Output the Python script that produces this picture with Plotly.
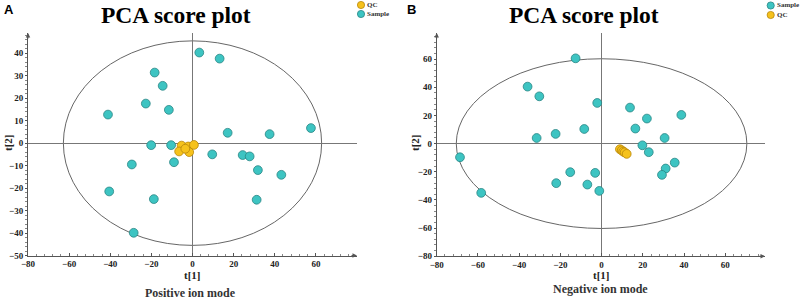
import plotly.graph_objects as go

# ---------------- data ----------------
# Panel A: Positive ion mode
a_sample_x = [3.3, 13.2, -18.4, -14.5, -22.7, -11.5, -41.1, 17.1, 37.5, 57.6, -20.1, -10.4,
              9.6, 24.4, 27.8, -29.5, -9.0, 31.8, 43.2, -40.5, -18.8, 31.2, -28.6]
a_sample_y = [40.3, 37.6, 31.4, 25.5, 17.6, 14.8, 12.7, 4.6, 4.0, 6.7, -0.9, -0.9,
              -5.0, -5.3, -5.9, -9.5, -8.5, -12.0, -14.1, -21.5, -24.9, -25.2, -39.9]
a_qc_x = [-5.3, -2.1, 0.7, -6.5, -1.6, -3.5]
a_qc_y = [-1.1, -1.5, -0.8, -3.7, -4.0, -2.5]
a_ellipse = (62.8, 45.5)   # semi-axes (t[1], t[2])
a_xticks = [-80, -60, -40, -20, 0, 20, 40, 60]
a_yticks = [-50, -40, -30, -20, -10, 0, 10, 20, 30, 40]

# Panel B: Negative ion mode
b_sample_x = [-12.6, -35.9, -30.2, -2.1, 13.8, 22.0, 38.7, -8.4, 16.4, -22.3, -31.5, 30.6,
              19.8, 22.9, -68.7, -58.4, -15.2, -3.1, -22.0, -6.9, -1.1, 35.5, 31.1, 29.3]
b_sample_y = [60.6, 40.5, 33.6, 28.9, 25.6, 17.8, 20.4, 10.4, 10.7, 6.9, 4.0, 4.0,
              -1.2, -6.1, -9.7, -35.0, -20.3, -20.8, -28.1, -29.1, -33.6, -13.5, -17.7, -22.2]
b_qc_x = [8.9, 9.8, 10.5, 11.2, 12.2]
b_qc_y = [-4.0, -4.8, -5.7, -6.2, -7.3]
b_ellipse = (70.5, 60.3)
b_xticks = [-80, -60, -40, -20, 0, 20, 40, 60]
b_yticks = [-80, -60, -40, -20, 0, 20, 40, 60]

# ---------------- style ----------------
SERIF = "Liberation Serif"
SANS = "Liberation Sans"
SAMPLE_FILL, SAMPLE_LINE = "#3dc4c2", "#2a8584"
QC_FILL, QC_LINE = "#f6c21c", "#b8860b"
AXIS_COL = "#555555"
MS = 8.8

fig = go.Figure()

def add_pts(x, y, fill, line, xa, ya, name):
    fig.add_trace(go.Scatter(x=x, y=y, mode="markers", name=name, showlegend=False,
                             xaxis=xa, yaxis=ya,
                             marker=dict(size=MS, color=fill, line=dict(color=line, width=0.8))))

add_pts(a_sample_x, a_sample_y, SAMPLE_FILL, SAMPLE_LINE, "x", "y", "Sample")
add_pts(a_qc_x, a_qc_y, QC_FILL, QC_LINE, "x", "y", "QC")
add_pts(b_sample_x, b_sample_y, SAMPLE_FILL, SAMPLE_LINE, "x2", "y2", "Sample")
add_pts(b_qc_x, b_qc_y, QC_FILL, QC_LINE, "x2", "y2", "QC")

tickfont = dict(family=SERIF, size=9, color="#222", weight="bold")

def xaxis(domain, rng, ticks, anchor):
    return dict(domain=domain, range=rng, anchor=anchor, tickvals=ticks, automargin=False,
                showgrid=False, showline=True, linecolor=AXIS_COL, linewidth=1,
                zeroline=True, zerolinecolor="#777", zerolinewidth=1,
                ticks="inside", ticklen=3, tickcolor=AXIS_COL, tickfont=tickfont,
                minor=dict(ticks="inside", ticklen=2, tickcolor="#888", dtick=4),
                fixedrange=True)

def yaxis(domain, rng, ticks, anchor, mdt):
    return dict(domain=domain, range=rng, anchor=anchor, tickvals=ticks, automargin=False,
                showgrid=False, showline=True, linecolor=AXIS_COL, linewidth=1,
                zeroline=True, zerolinecolor="#777", zerolinewidth=1,
                ticks="outside", ticklen=2, tickcolor=AXIS_COL, tickfont=tickfont,
                minor=dict(ticks="outside", ticklen=2, tickcolor="#888", dtick=mdt),
                fixedrange=True)

W, H = 800, 300
fig.update_layout(
    width=W, height=H, margin=dict(l=0, r=0, t=0, b=0, autoexpand=False),
    paper_bgcolor="white", plot_bgcolor="white",
    xaxis=xaxis([28 / W, 357 / W], [-80, 80], a_xticks, "y"),
    yaxis=yaxis([(H - 255.5) / H, (H - 33) / H], [-50, 49], a_yticks, "x", 2),
    xaxis2=xaxis([436.7 / W, 765 / W], [-80, 79.3], b_xticks, "y2"),
    yaxis2=yaxis([(H - 256.2) / H, (H - 33) / H], [-80, 78.6], b_yticks, "x2", 4),
)

# Hotelling ellipses
for (rx, ry), xr, yr in [(a_ellipse, "x", "y"), (b_ellipse, "x2", "y2")]:
    fig.add_shape(type="circle", xref=xr, yref=yr, x0=-rx, x1=rx, y0=-ry, y1=ry,
                  line=dict(color="#666", width=1), layer="below")

# Axis arrows
for xr, yr, xmin, xmax, ymin, ymax in [("x", "y", -80, 80, -50, 49), ("x2", "y2", -80, 79.3, -80, 78.6)]:
    fig.add_annotation(x=xmin, y=ymax, xref=xr, yref=yr, ax=0, ay=7, text="", showarrow=True,
                       arrowhead=2, arrowsize=0.9, arrowwidth=1, arrowcolor=AXIS_COL)
    fig.add_annotation(x=xmax, y=ymin, xref=xr, yref=yr, ax=-7, ay=0, text="", showarrow=True,
                       arrowhead=2, arrowsize=0.9, arrowwidth=1, arrowcolor=AXIS_COL)

def txt(x, y, text, size, family=SERIF, color="#111", angle=0, xanchor="center", weight="bold"):
    fig.add_annotation(x=x / W, y=1 - y / H, xref="paper", yref="paper", text=text, showarrow=False,
                       xanchor=xanchor, yanchor="middle", textangle=angle,
                       font=dict(family=family, size=size, color=color, weight=weight))

# Panel letters
txt(9, 9, "A", 13, family=SANS, color="#000")
txt(411, 9, "B", 13, family=SANS, color="#000")
# Titles
txt(175.5, 15, "PCA score plot", 23.5, color="#000")
txt(584, 15, "PCA score plot", 23.5, color="#000")
# axis titles
txt(192.6, 274.5, "t[1]", 11, color="#222")
txt(601.6, 274.5, "t[1]", 11, color="#222")
txt(8, 143, "t[2]", 11, color="#222", angle=-90)
txt(415, 143, "t[2]", 11, color="#222", angle=-90)
# Mode labels
txt(190, 293, "Positive ion mode", 12, color="#333")
txt(600, 289, "Negative ion mode", 12, color="#333")

# Legends (manual, compact)
def legend_item(cx, cy, fill, line, label):
    fig.add_shape(type="circle", xref="paper", yref="paper", xsizemode="pixel", ysizemode="pixel",
                  xanchor=cx / W, yanchor=1 - cy / H, x0=-3.6, x1=3.6, y0=-3.6, y1=3.6,
                  fillcolor=fill, line=dict(color=line, width=0.8))
    txt(cx + 4.2, cy, label, 7, color="#333", xanchor="left")

legend_item(361, 5, QC_FILL, QC_LINE, "QC")
legend_item(361, 14, SAMPLE_FILL, SAMPLE_LINE, "Sample")
legend_item(770.7, 5.5, SAMPLE_FILL, SAMPLE_LINE, "Sample")
legend_item(770.7, 15, QC_FILL, QC_LINE, "QC")

fig.write_html("out.html", config={"displayModeBar": False},
               post_script="document.body.style.margin='0';document.body.style.overflow='hidden';")
